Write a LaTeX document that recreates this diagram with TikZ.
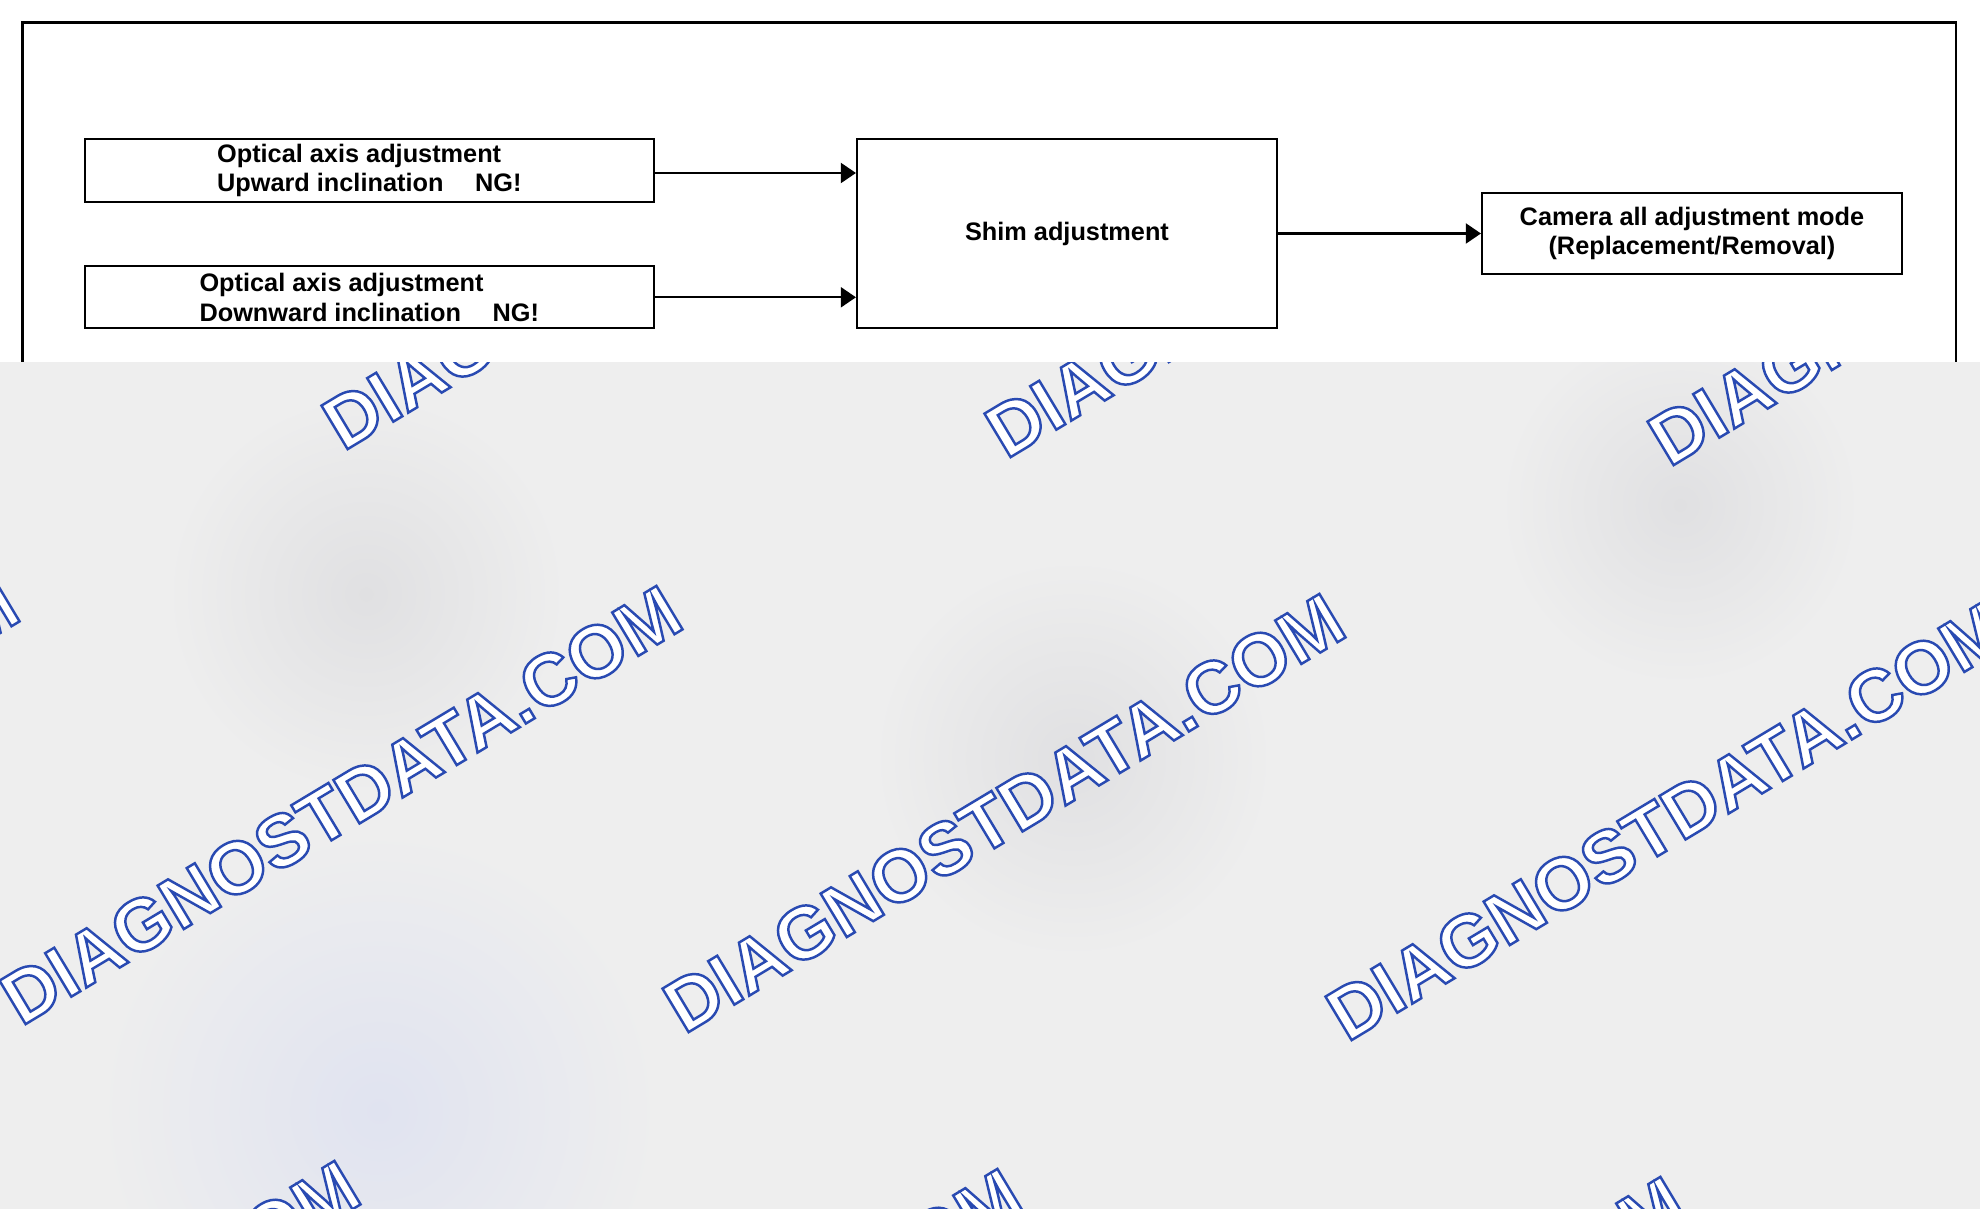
\documentclass[tikz,border=0pt]{standalone}
\usepackage{fontspec}
\setmainfont{Liberation Sans}
\usetikzlibrary{arrows.meta, calc}
\definecolor{bggray}{RGB}{238,238,238}
\definecolor{blobgray}{RGB}{224,224,226}
\definecolor{blobblue}{RGB}{224,227,240}
% outlined watermark text: white fill, blue stroke
\newcommand{\outlinetext}[1]{\special{pdf:literal direct 0.16 0.29 0.70 RG 0.7 w 2 Tr}#1\special{pdf:literal direct 0 Tr}}

\begin{document}
\begin{tikzpicture}[x=0.1mm, y=-0.1mm, % 1 unit = 1 pixel of the scan
    blockbox/.style={draw, line width=0.6pt, fill=white, inner sep=0pt,
        font=\fontsize{7.2}{8.5}\selectfont\bfseries},
    flowarrow/.style={line width=0.6pt, -{Triangle[length=4.3pt,width=5.7pt]}},
    watermark/.style={rotate=31, text=white, font=\fontsize{21}{24}\selectfont\bfseries}]

        % Page size
        \useasboundingbox (0,0) rectangle (1980,1209);
        \clip (0,0) rectangle (1980,1209);

        % Grey background with soft blotches
        \fill[bggray] (0,0) rectangle (1980,1209);
        \shade[inner color=blobgray, outer color=bggray] (366,594) circle (20mm);
        \shade[inner color=blobgray, outer color=bggray] (1073,758) circle (20mm);
        \shade[inner color=blobgray, outer color=bggray] (1680,505) circle (18mm);
        \shade[inner color=blobblue, outer color=bggray] (379,1111) circle (28mm);

        % Watermark tiles
        \foreach \i in {-1,...,3} {
            \foreach \j in {-1,0,1} {
                \node[watermark] (wm\i\j) at ({341+663*\i+322*\j},{805+8*\i-575*\j})
                    {\outlinetext{DIAGNOSTDATA.COM}};
            }
        }

        % Sheet of the diagram
        \fill[white] (0,0) rectangle (1980,362);
        \draw[line width=0.7pt] (22.7,362) -- (22.7,22.7) -- (1956,22.7) -- (1956,362);

        % Blocks
        \node[blockbox, minimum width=56.9mm, minimum height=6.3mm, align=left] (upward) at (369.3,170.5)
            {Optical axis adjustment\\Upward inclination\hspace{1.25em}NG!};
        \node[blockbox, minimum width=56.9mm, minimum height=6.2mm, align=left] (downward) at (369.3,297.3)
            {Optical axis adjustment\\Downward inclination\hspace{1.25em}NG!};
        \node[blockbox, minimum width=42mm, minimum height=18.9mm] (shim) at (1067,233.5) {Shim adjustment};
        \node[blockbox, minimum width=42mm, minimum height=8.1mm, align=center] (camera) at (1692,233.5)
            {Camera all adjustment mode\\(Replacement/Removal)};

        % Arrows
        \draw[flowarrow] ($(upward.east)+(0,2.5)$) -- ($(upward.east -| shim.west)+(0,2.5)$);
        \draw[flowarrow] (downward.east) -- (downward.east -| shim.west);
        \draw[flowarrow] (shim.east) -- (camera.west);

    \end{tikzpicture}
\end{document}
